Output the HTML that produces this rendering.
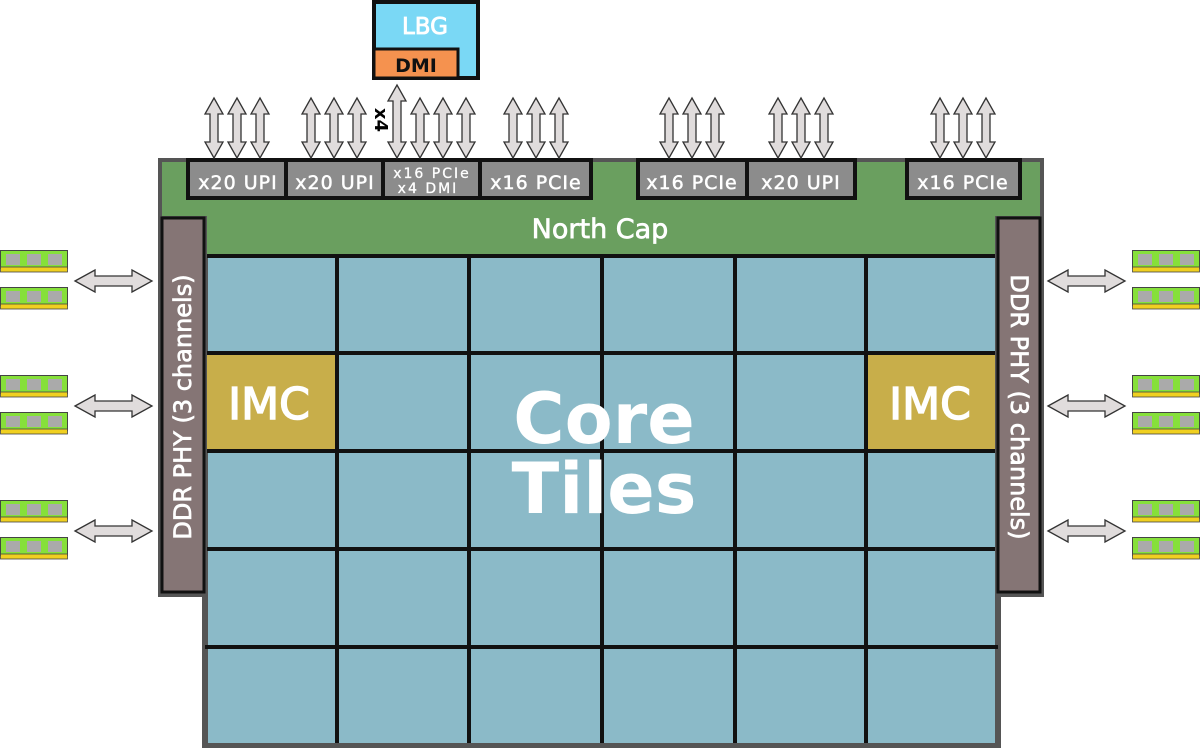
<!DOCTYPE html>
<html><head><meta charset="utf-8"><style>body{margin:0;background:#fff}svg{display:block}</style></head><body>
<svg width="1200" height="748" viewBox="0 0 1200 748" xmlns="http://www.w3.org/2000/svg" font-family="'DejaVu Sans','Liberation Sans',sans-serif">
<defs>
<path id="va" d="M0,0 L9,16 L4,16 L4,44 L9,44 L0,60 L-9,44 L-4,44 L-4,16 L-9,16 Z" fill="#e0dcdc" stroke="#333" stroke-width="1.3"/>
<path id="ha" d="M0,0 L20,-11 L20,-5 L57,-5 L57,-11 L77,0 L57,11 L57,5 L20,5 L20,11 Z" fill="#e0dcdc" stroke="#333" stroke-width="1.3"/>
<g id="dimm"><rect x="0.5" y="0.5" width="67" height="18" fill="#86e03a" stroke="#444"/><rect x="0.5" y="17" width="67" height="5" fill="#f0d020" stroke="#444" stroke-width="0.8"/><rect x="6" y="4" width="14" height="11" fill="#aaa"/><rect x="27" y="4" width="14" height="11" fill="#aaa"/><rect x="48" y="4" width="14" height="11" fill="#aaa"/></g>
</defs>
<rect x="202" y="250" width="799" height="498" fill="#555"/>
<rect x="208" y="255" width="787" height="488" fill="#8bbac8"/>
<rect x="160" y="160" width="882" height="96" fill="#6a9f5f" stroke="#555" stroke-width="4"/>
<rect x="205" y="353" width="132" height="98" fill="#c8ae4a"/>
<rect x="866" y="353" width="132" height="98" fill="#c8ae4a"/>
<g stroke="#111" stroke-width="4">
<line x1="337" y1="255" x2="337" y2="743"/><line x1="469" y1="255" x2="469" y2="743"/><line x1="602" y1="255" x2="602" y2="743"/><line x1="735" y1="255" x2="735" y2="743"/><line x1="866" y1="255" x2="866" y2="743"/>
<line x1="205" y1="256" x2="998" y2="256"/><line x1="205" y1="353" x2="998" y2="353"/><line x1="205" y1="451" x2="998" y2="451"/><line x1="205" y1="549" x2="998" y2="549"/><line x1="205" y1="647" x2="998" y2="647"/>
<line x1="205" y1="255" x2="205" y2="595"/><line x1="998" y1="255" x2="998" y2="595"/>
</g>
<rect x="158" y="216" width="49" height="381" fill="#555"/>
<rect x="995" y="216" width="49" height="381" fill="#555"/>
<rect x="162" y="218" width="42" height="374" fill="#857575" stroke="#111" stroke-width="3"/>
<rect x="998" y="218" width="42" height="374" fill="#857575" stroke="#111" stroke-width="3"/>
<g fill="#fff" stroke="#fff" stroke-width="0.7">
<text x="191" y="407" transform="rotate(-90 191 407)" text-anchor="middle" font-size="24">DDR PHY (3 channels)</text>
<text x="1011" y="407" transform="rotate(90 1011 407)" text-anchor="middle" font-size="24">DDR PHY (3 channels)</text>
<text x="600" y="238" text-anchor="middle" font-size="27">North Cap</text>
<text x="269" y="419" text-anchor="middle" font-size="44" stroke-width="1.5">IMC</text>
<text x="930" y="419" text-anchor="middle" font-size="44" stroke-width="1.5">IMC</text>
</g>
<text x="604" y="443" text-anchor="middle" fill="#fff" font-size="70" font-weight="bold">Core</text>
<text x="604" y="513" text-anchor="middle" fill="#fff" font-size="70" font-weight="bold">Tiles</text>
<g fill="#8c8c8c" stroke="#111" stroke-width="4">
<rect x="188" y="160" width="98" height="38"/><rect x="286" y="160" width="97" height="38"/><rect x="383" y="160" width="97" height="38"/><rect x="480" y="160" width="111" height="38"/>
<rect x="638" y="160" width="109" height="38"/><rect x="747" y="160" width="108" height="38"/><rect x="907" y="160" width="113" height="38"/>
</g>
<g fill="#fff" stroke="#fff" stroke-width="0.5" font-size="19" text-anchor="middle" letter-spacing="1">
<text x="238" y="189">x20 UPI</text><text x="335" y="189">x20 UPI</text><text x="536" y="189">x16 PCIe</text>
<text x="692" y="189">x16 PCIe</text><text x="801" y="189">x20 UPI</text><text x="963" y="189">x16 PCIe</text>
<text x="432" y="178" font-size="14" stroke-width="0.3" letter-spacing="2">x16 PCIe</text><text x="428" y="193" font-size="14" stroke-width="0.3" letter-spacing="2">x4 DMI</text>
</g>
<g>
<use href="#va" x="214" y="98"/><use href="#va" x="237" y="98"/><use href="#va" x="260" y="98"/>
<use href="#va" x="311" y="98"/><use href="#va" x="334" y="98"/><use href="#va" x="357" y="98"/>
<use href="#va" x="420" y="98"/><use href="#va" x="443" y="98"/><use href="#va" x="466" y="98"/>
<use href="#va" x="513" y="98"/><use href="#va" x="536" y="98"/><use href="#va" x="559" y="98"/>
<use href="#va" x="669" y="98"/><use href="#va" x="692" y="98"/><use href="#va" x="715" y="98"/>
<use href="#va" x="778" y="98"/><use href="#va" x="801" y="98"/><use href="#va" x="824" y="98"/>
<use href="#va" x="940" y="98"/><use href="#va" x="963" y="98"/><use href="#va" x="986" y="98"/>
</g>
<path d="M397,85 L406,101 L401,101 L401,142 L406,142 L397,158 L388,142 L393,142 L393,101 L388,101 Z" fill="#e0dcdc" stroke="#333" stroke-width="1.3"/>
<text x="375" y="120" transform="rotate(90 375 120)" text-anchor="middle" font-size="18" font-weight="bold" fill="#000">x4</text>
<rect x="374" y="2" width="104" height="76" fill="#7ad8f5" stroke="#111" stroke-width="4"/>
<rect x="374" y="49" width="84" height="29" fill="#f5924f" stroke="#111" stroke-width="3"/>
<text x="425" y="34" text-anchor="middle" fill="#fff" stroke="#fff" stroke-width="0.8" font-size="23">LBG</text>
<text x="416" y="72" text-anchor="middle" fill="#111" font-size="19" font-weight="bold">DMI</text>
<use href="#ha" x="75" y="281"/><use href="#ha" x="75" y="406"/><use href="#ha" x="75" y="531"/>
<use href="#ha" x="1048" y="281"/><use href="#ha" x="1048" y="406"/><use href="#ha" x="1048" y="531"/>
<use href="#dimm" x="0" y="250"/><use href="#dimm" x="0" y="287"/><use href="#dimm" x="0" y="375"/><use href="#dimm" x="0" y="412"/><use href="#dimm" x="0" y="500"/><use href="#dimm" x="0" y="537"/>
<use href="#dimm" x="1132" y="250"/><use href="#dimm" x="1132" y="287"/><use href="#dimm" x="1132" y="375"/><use href="#dimm" x="1132" y="412"/><use href="#dimm" x="1132" y="500"/><use href="#dimm" x="1132" y="537"/>
</svg>
</body></html>
